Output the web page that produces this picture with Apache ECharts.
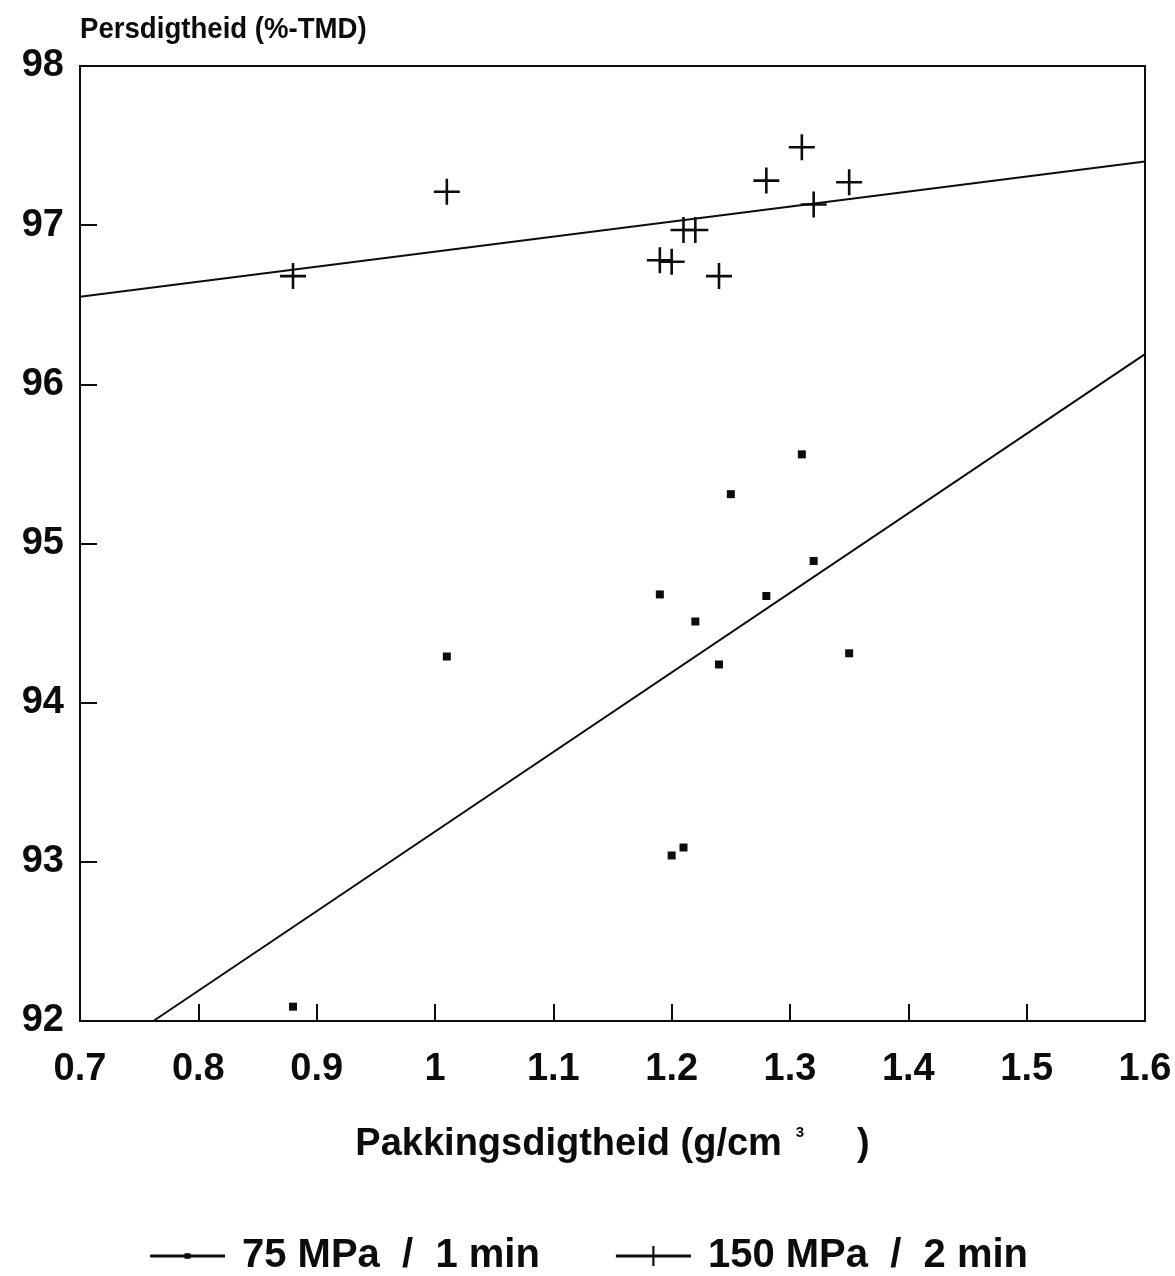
<!DOCTYPE html>
<html>
<head>
<meta charset="utf-8">
<script src="https://cdn.jsdelivr.net/npm/echarts@6/dist/echarts.min.js"></script>
<style>
html,body{margin:0;padding:0;background:#fff;}
#chart{width:1175px;height:1276px;}
</style>
</head>
<body>
<div id="chart"></div>
<script>
// ---- data ----
const seriesNames = ['75 MPa / 1 min', '150 MPa / 2 min'];
const legendLabels = ['75 MPa  /  1 min', '150 MPa  /  2 min'];

const x75 = [0.88, 1.01, 1.19, 1.20, 1.21, 1.22, 1.24, 1.25, 1.28, 1.31, 1.32, 1.35];
const y75 = [92.09, 94.29, 94.68, 93.04, 93.09, 94.51, 94.24, 95.31, 94.67, 95.56, 94.89, 94.31];

const x150 = [0.88, 1.01, 1.19, 1.20, 1.21, 1.22, 1.24, 1.28, 1.31, 1.32, 1.35];
const y150 = [96.68, 97.21, 96.78, 96.77, 96.97, 96.97, 96.68, 97.28, 97.49, 97.13, 97.27];

const fit75X = [0.762, 1.6];
const fit75Y = [92.0, 96.19];
const fit150X = [0.7, 1.6];
const fit150Y = [96.55, 97.40];

const xTicks = [0.7, 0.8, 0.9, 1.0, 1.1, 1.2, 1.3, 1.4, 1.5, 1.6];
const yTicks = [92, 93, 94, 95, 96, 97, 98];

const yTitle = 'Persdigtheid (%-TMD)';
const xTitleMain = 'Pakkingsdigtheid (g/cm';
const xTitleSup = '3';
const xTitleEnd = '     )';

// ---- chart ----
const zip = (xs, ys) => xs.map((x, i) => [x, ys[i]]);
const ink = '#0c0c0c';
const font = '"Liberation Sans", Arial, Helvetica, sans-serif';
const plusPath = 'path://M0,9 H20 V11 H0 Z M9,0 H11 V20 H9 Z';
const legendDot = 'path://M0,8.6 H75 V11.4 H0 Z M34.5,7.2 H40.5 V12.8 H34.5 Z';
const legendPlus = 'path://M0,8.6 H75 V11.4 H0 Z M36.4,0 H38.6 V20 H36.4 Z';

const chart = echarts.init(document.getElementById('chart'), null, {renderer: 'canvas'});
chart.setOption({
  backgroundColor: '#ffffff',
  animation: false,
  grid: {left: 80, right: 30, top: 66, bottom: 255, show: true, borderColor: ink, borderWidth: 2, backgroundColor: 'transparent'},
  xAxis: {
    type: 'value', min: 0.7, max: 1.6, interval: 0.1,
    axisLine: {show: true, lineStyle: {color: ink, width: 2}},
    axisTick: {show: true, inside: true, length: 17, lineStyle: {color: ink, width: 2}},
    splitLine: {show: false},
    axisLabel: {
      color: ink, fontSize: 38, fontWeight: 'bold', fontFamily: font, margin: 30,
      formatter: v => {
        const t = xTicks.find(k => Math.abs(k - v) < 1e-6);
        return t === undefined ? '' : String(t);
      }
    },
    name: xTitleMain + '{sup|' + xTitleSup + '}' + xTitleEnd,
    nameLocation: 'middle', nameGap: 104,
    nameTextStyle: {
      color: ink, fontSize: 38, fontWeight: 'bold', fontFamily: font,
      rich: {sup: {fontSize: 15, fontWeight: 'bold', fontFamily: font, color: ink, verticalAlign: 'top', padding: [0, 0, 24, 14]}}
    }
  },
  yAxis: {
    type: 'value', min: 92, max: 98, interval: 1,
    axisLine: {show: true, lineStyle: {color: ink, width: 2}},
    axisTick: {show: true, inside: true, length: 17, lineStyle: {color: ink, width: 2}},
    splitLine: {show: false},
    axisLabel: {color: ink, fontSize: 38, fontWeight: 'bold', fontFamily: font, margin: 16,
      formatter: v => (yTicks.indexOf(Math.round(v)) >= 0 ? String(Math.round(v)) : '')}
  },
  legend: {
    left: 150, top: 1236, itemGap: 76, itemWidth: 75, itemHeight: 22, padding: 0,
    data: [
      {name: seriesNames[0], icon: legendDot},
      {name: seriesNames[1], icon: legendPlus}
    ],
    formatter: n => legendLabels[seriesNames.indexOf(n)],
    textStyle: {color: ink, fontSize: 40, fontWeight: 'bold', fontFamily: font, padding: [0, 0, 0, 12]},
    itemStyle: {color: ink, borderWidth: 0, opacity: 1},
    selectedMode: false
  },
  graphic: [{
    type: 'text', left: 80, top: 15, scaleX: 0.92,
    style: {text: yTitle, fill: ink, font: 'bold 30px ' + font}
  }],
  series: [
    {
      name: seriesNames[0], type: 'scatter', symbol: 'rect', symbolSize: 8,
      itemStyle: {color: ink, opacity: 1}, data: zip(x75, y75), z: 3
    },
    {
      name: seriesNames[1], type: 'scatter', symbol: plusPath, symbolSize: 26,
      itemStyle: {color: ink, opacity: 1}, data: zip(x150, y150), z: 3
    },
    {
      name: 'fit75', type: 'line', data: zip(fit75X, fit75Y), showSymbol: false, symbol: 'none',
      lineStyle: {color: ink, width: 2}, silent: true, z: 2, clip: true
    },
    {
      name: 'fit150', type: 'line', data: zip(fit150X, fit150Y), showSymbol: false, symbol: 'none',
      lineStyle: {color: ink, width: 2}, silent: true, z: 2, clip: true
    }
  ]
});
</script>
</body>
</html>
